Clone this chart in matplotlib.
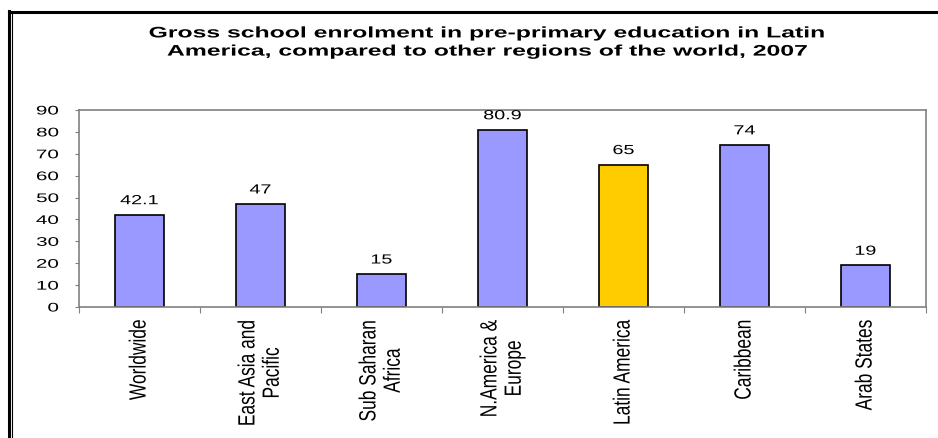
import matplotlib.pyplot as plt
import matplotlib.patheffects as pe
from matplotlib.transforms import Affine2D
import numpy as np

plt.rcParams['font.family'] = ['Liberation Sans', 'DejaVu Sans']

categories = ['Worldwide', 'East Asia and\nPacific', 'Sub Saharan\nAfrica', 'N.America &\nEurope',
              'Latin America', 'Caribbean', 'Arab States']
values = [42.1, 47, 15, 80.9, 65, 74, 19]
value_labels = ['42.1', '47', '15', '80.9', '65', '74', '19']
highlight = 'Latin America'


class HStretch(pe.AbstractPathEffect):
    # the source image is stretched sideways, so widen the glyphs about a fixed x (pixels)
    def __init__(self, sx, cx):
        super().__init__()
        self.sx = sx
        self.cx = cx

    def draw_path(self, renderer, gc, tpath, affine, rgbFace=None):
        aff = affine + Affine2D().translate(-self.cx, 0).scale(self.sx, 1).translate(self.cx, 0)
        renderer.draw_path(gc, tpath, aff, rgbFace)


DPI = 100
fig = plt.figure(figsize=(9.38, 4.38), dpi=DPI)

# outer frame (thick top/left line with a thin inner line on the left)
fig.add_artist(plt.Line2D([8.5 / 938, 1], [1 - 12 / 438, 1 - 12 / 438], color='black', lw=2.2))
fig.add_artist(plt.Line2D([9 / 938, 9 / 938], [0, 1 - 11 / 438], color='black', lw=2.2))
fig.add_artist(plt.Line2D([12 / 938, 12 / 938], [0, 1 - 14 / 438], color='black', lw=0.8))

ax_left, ax_right, ax_top, ax_bottom = 79, 926, 110, 307
ax = fig.add_axes([ax_left / 938, 1 - ax_bottom / 438, (ax_right - ax_left) / 938, (ax_bottom - ax_top) / 438])

x = np.arange(len(categories))
colors = ['#FFCC00' if c == highlight else '#9999FF' for c in categories]
ax.bar(x, values, width=0.4, color=colors, edgecolor='black', linewidth=1.2)

ax.set_xlim(-0.5, len(categories) - 0.5)
ax.set_ylim(0, 90)

for xi, v, lab in zip(x, values, value_labels):
    cx = ax.transData.transform((xi, 0))[0]
    ax.text(xi, v + 3.5, lab, ha='center', va='bottom', fontsize=9.5,
            path_effects=[HStretch(1.5, cx)])

# y ticks
ytick_len, ytick_pad = 2.9, 11.5
ax.set_yticks(range(0, 91, 10))
ax.tick_params(axis='y', labelsize=9, length=ytick_len, color='#808080', pad=ytick_pad)
y_right = ax_left - (ytick_len + ytick_pad) * DPI / 72
for t in ax.get_yticklabels():
    t.set_path_effects([HStretch(1.65, y_right)])

# ticks at category boundaries, labels at centres
ax.set_xticks(np.arange(len(categories) + 1) - 0.5)
ax.set_xticklabels([])
ax.tick_params(axis='x', length=4, color='#808080')
ax.set_xticks(x, minor=True)
ax.set_xticklabels(categories, minor=True, rotation=90, fontsize=12.5, ha='center', va='top',
                   multialignment='center', linespacing=1.25)
ax.tick_params(axis='x', which='minor', length=0, pad=9)
for xi, t in zip(x, ax.get_xticklabels(minor=True)):
    t.set_path_effects([HStretch(1.35, ax.transData.transform((xi, 0))[0])])

for s in ax.spines.values():
    s.set_color('#808080')
    s.set_linewidth(1.2)

title_cx = 488
fig.text(title_cx / 938, 1 - 42.5 / 438,
         'Gross school enrolment in pre-primary education in Latin\nAmerica, compared to other regions of the world, 2007',
         ha='center', va='center', fontsize=11, fontweight='bold', linespacing=1.38,
         path_effects=[HStretch(1.62, title_cx)])

plt.savefig('out.png', dpi=DPI)
